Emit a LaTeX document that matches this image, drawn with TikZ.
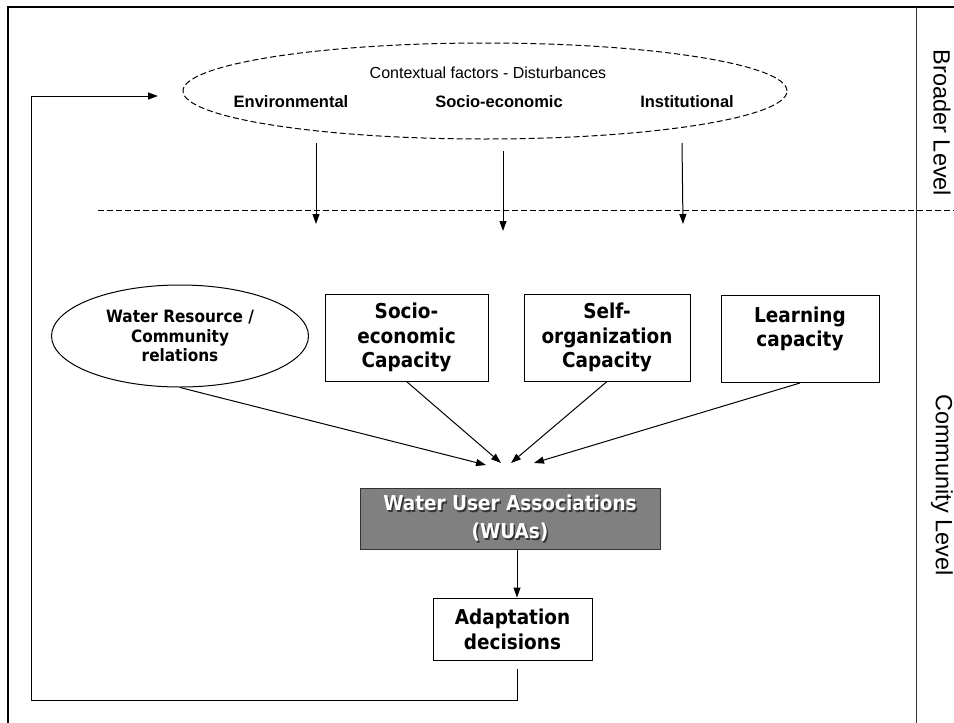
\documentclass[tikz,border=0pt]{standalone}
\usepackage{fontspec}
\setmainfont{Liberation Sans}
\newfontfamily\boxfont{DejaVu Sans Condensed}
\usetikzlibrary{arrows.meta,shapes.geometric}

\begin{document}
\begin{tikzpicture}[x=1pt,y=-1pt,line width=1pt,>={Triangle[length=10pt,width=7pt]}]
\tikzstyle{context} = [ellipse, draw=black, dash pattern=on 6pt off 3pt, minimum width=604pt, minimum height=96pt, inner sep=0pt]
\tikzstyle{plainlabel} = [inner sep=0pt, font=\fontsize{16}{19}\selectfont]
\tikzstyle{factor} = [inner sep=0pt, font=\bfseries\fontsize{16.5}{20}\selectfont]
\tikzstyle{resource} = [ellipse, draw=black, minimum width=257pt, minimum height=102pt, inner sep=0pt, align=center, font=\boxfont\bfseries\fontsize{17}{19.5}\selectfont]
\tikzstyle{capacity} = [rectangle, draw=black, fill=white, minimum width=163pt, minimum height=87pt, inner sep=0pt, align=center, font=\boxfont\bfseries\fontsize{20.5}{24.5}\selectfont]
\tikzstyle{association} = [rectangle, draw=black!80, fill=black!50, minimum width=300pt, minimum height=61pt, inner sep=0pt]
\tikzstyle{associationtext} = [inner sep=0pt, align=center, font=\boxfont\bfseries\fontsize{20.5}{28}\selectfont]
\tikzstyle{decision} = [rectangle, draw=black, fill=white, minimum width=159pt, minimum height=62pt, inner sep=0pt, align=center, font=\boxfont\bfseries\fontsize{20.5}{25}\selectfont]
\tikzstyle{levellabel} = [inner sep=0pt, rotate=-90, font=\fontsize{23.5}{28}\selectfont]

\useasboundingbox (0,0) rectangle (954,723);
\clip (0,0) rectangle (954,723);
\draw[line width=2pt] (8,7) rectangle (980,745);

\coordinate(levelTop) at (916,7);
\coordinate(levelBottom) at (916,723);
\coordinate(dashStart) at (98,210);
\coordinate(dashEnd) at (954,210);
\draw[black!80] (levelTop) -- (levelBottom);
\draw[dash pattern=on 6pt off 3pt] (dashStart) -- (dashEnd);

\node(broaderLevel) [levellabel] at (942,123) {Broader Level};
\node(communityLevel) [levellabel] at (942,485) {Community Level};

\node(contextEllipse) [context] at (485,91) {};
\node(contextTitle) [plainlabel] at (488,73) {Contextual factors - Disturbances};
\node(environmental) [factor] at (291,102) {Environmental};
\node(socioEconomic) [factor] at (499,102) {Socio-economic};
\node(institutional) [factor] at (687,102) {Institutional};

\coordinate(envStart) at (316,143);
\coordinate(envEnd) at (316,224);
\coordinate(socStart) at (503,151);
\coordinate(socEnd) at (503,231);
\coordinate(instStart) at (682,143);
\coordinate(instEnd) at (683,224);
\draw[->] (envStart) -- (envEnd);
\draw[->] (socStart) -- (socEnd);
\draw[->] (instStart) -- (instEnd);

\node(waterResource) [resource] at (180,336) {Water Resource /\\Community\\relations};
\node(socioCapacity) [capacity] at (406.5,337.5) {Socio-\\economic\\Capacity};
\node(selfOrganization) [capacity, minimum width=166pt] at (607,337.5) {Self-\\organization\\Capacity};
\node(learningCapacity) [capacity, minimum width=158pt] at (800,339) {Learning\\capacity\\\mbox{}};

\coordinate(tipResource) at (486,465);
\coordinate(tipSocio) at (501,463);
\coordinate(tipSelf) at (511,463);
\coordinate(tipLearning) at (534,463);
\draw[->] (waterResource.south) -- (tipResource);
\draw[->] (socioCapacity.south) -- (tipSocio);
\draw[->] (selfOrganization.south) -- (tipSelf);
\draw[->] (learningCapacity.south) -- (tipLearning);

\node(wua) [association] at (510,518.5) {};
\node(wuaShadow) [associationtext, text=black!80] at ([shift={(1.5,1.5)}]wua.center) {Water User Associations\\(WUAs)};
\node(wuaText) [associationtext, text=white] at (wua.center) {Water User Associations\\(WUAs)};
\node(adaptation) [decision] at (512.5,629) {Adaptation\\decisions};
\draw[->] ([xshift=4.5pt]adaptation.north |- wua.south) -- ([xshift=4.5pt]adaptation.north);

\coordinate(loopCorner) at (31,700);
\coordinate(loopEnd) at (158,96);
\draw[->] ([xshift=4.5pt,yshift=-8pt]adaptation.south) |- (loopCorner) |- (loopEnd);
\end{tikzpicture}
\end{document}
